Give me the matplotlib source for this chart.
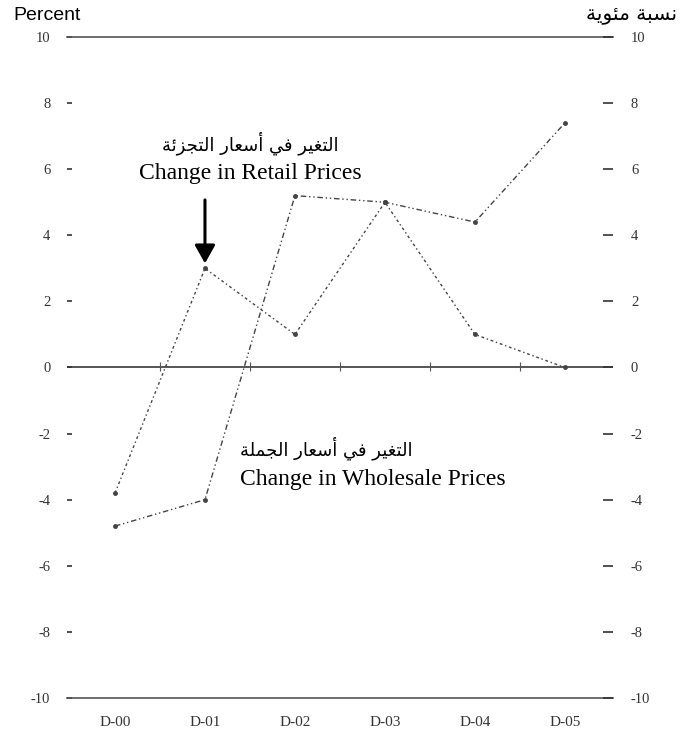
import numpy as np
import matplotlib
matplotlib.use('Agg')
import matplotlib.pyplot as plt

# data
years = ['D-00', 'D-01', 'D-02', 'D-03', 'D-04', 'D-05']
retail = [-3.8, 3.0, 1.0, 5.0, 1.0, 0.0]
wholesale = [-4.8, -4.0, 5.2, 5.0, 4.4, 7.4]
y_ticks = [10, 8, 6, 4, 2, 0, -2, -4, -6, -8, -10]

title_left = 'Percent'
title_right = 'نسبة مئوية'
retail_ar = 'التغير في أسعار التجزئة'
retail_en = 'Change in Retail Prices'
wholesale_ar = 'التغير في أسعار الجملة'
wholesale_en = 'Change in Wholesale Prices'


# matplotlib has no Arabic shaping, so map letters to presentation forms
# (isolated, final, initial, medial) and reverse for right-to-left display
ARABIC_FORMS = {
    'ا': ('\uFE8D', '\uFE8E', None, None),
    'أ': ('\uFE83', '\uFE84', None, None),
    'ب': ('\uFE8F', '\uFE90', '\uFE91', '\uFE92'),
    'ة': ('\uFE93', '\uFE94', None, None),
    'ت': ('\uFE95', '\uFE96', '\uFE97', '\uFE98'),
    'ج': ('\uFE9D', '\uFE9E', '\uFE9F', '\uFEA0'),
    'ر': ('\uFEAD', '\uFEAE', None, None),
    'ز': ('\uFEAF', '\uFEB0', None, None),
    'س': ('\uFEB1', '\uFEB2', '\uFEB3', '\uFEB4'),
    'ع': ('\uFEC9', '\uFECA', '\uFECB', '\uFECC'),
    'غ': ('\uFECD', '\uFECE', '\uFECF', '\uFED0'),
    'ف': ('\uFED1', '\uFED2', '\uFED3', '\uFED4'),
    'ل': ('\uFEDD', '\uFEDE', '\uFEDF', '\uFEE0'),
    'م': ('\uFEE1', '\uFEE2', '\uFEE3', '\uFEE4'),
    'ن': ('\uFEE5', '\uFEE6', '\uFEE7', '\uFEE8'),
    'و': ('\uFEED', '\uFEEE', None, None),
    'ي': ('\uFEF1', '\uFEF2', '\uFEF3', '\uFEF4'),
    'ئ': ('\uFE89', '\uFE8A', '\uFE8B', '\uFE8C'),
}


def shape_arabic(text):
    out = []
    for i, ch in enumerate(text):
        forms = ARABIC_FORMS.get(ch)
        if forms is None:
            out.append(ch)
            continue
        prev = text[i - 1] if i > 0 else ''
        nxt = text[i + 1] if i + 1 < len(text) else ''
        joins_prev = prev in ARABIC_FORMS and ARABIC_FORMS[prev][2] is not None
        joins_next = forms[2] is not None and nxt in ARABIC_FORMS
        if joins_prev and joins_next:
            out.append(forms[3])
        elif joins_prev:
            out.append(forms[1])
        elif joins_next:
            out.append(forms[2])
        else:
            out.append(forms[0])
    return ''.join(reversed(out))


serif = 'Liberation Serif'
arabic_font = ['DejaVu Sans']
line_col = '#444444'
axis_col = '#555555'
tick_col = '#333333'

fig = plt.figure(figsize=(6.84, 7.4), dpi=100)
ax = fig.add_axes([0.098, 0.0568, 0.798, 0.8932])

x = np.arange(len(years))

ax.plot(x, retail, color=line_col, lw=1.0, linestyle=(0, (2, 2, 1, 2)),
        marker='o', markersize=2.5)
ax.plot(x, wholesale, color=line_col, lw=1.0, linestyle=(0, (4, 2, 1, 2, 1, 2)),
        marker='o', markersize=2.5)

ax.set_xlim(-0.533, 5.533)
ax.set_ylim(y_ticks[-1], y_ticks[0])

# zero line with small marks between the years
ax.axhline(0, color=axis_col, lw=1.4, zorder=1)
ax.vlines(x[:-1] + 0.5, -0.12, 0.18, color=axis_col, lw=0.8)

for side in ['left', 'right']:
    ax.spines[side].set_visible(False)
for side in ['top', 'bottom']:
    ax.spines[side].set_color(axis_col)
    ax.spines[side].set_linewidth(1.2)

ax.set_xticks(x)
ax.set_xticklabels(years, fontfamily=serif, fontsize=11, color=tick_col)
ax.tick_params(axis='x', length=0, pad=13)

ax.set_yticks(y_ticks)
ax.set_yticklabels([str(v) for v in y_ticks], fontfamily=serif, fontsize=10.5, color=tick_col)
ax.tick_params(axis='y', direction='in', length=3.5, width=1.2, color=tick_col, pad=12)

ax2 = ax.twinx()
ax2.set_ylim(ax.get_ylim())
for side in ['left', 'right', 'top', 'bottom']:
    ax2.spines[side].set_visible(False)
ax2.set_yticks(y_ticks)
ax2.set_yticklabels([str(v) for v in y_ticks], fontfamily=serif, fontsize=10.5, color=tick_col)
ax2.tick_params(axis='y', direction='in', length=7, width=1.2, color=tick_col, pad=13)

# series labels
ax.text(1.5, 6.8, shape_arabic(retail_ar), family=arabic_font, fontsize=13,
        ha='center', va='center', color='black')
ax.text(1.5, 5.88, retail_en, family=serif, fontsize=17,
        ha='center', va='center', color='black')
ax.annotate('', xy=(1, 3.15), xytext=(1, 5.07),
            arrowprops=dict(arrowstyle='-|>,head_length=0.5,head_width=0.28', lw=2.2,
                            color='black', mutation_scale=22, shrinkA=0, shrinkB=0))

ax.text(1.39, -2.44, shape_arabic(wholesale_ar), family=arabic_font, fontsize=13,
        ha='left', va='center', color='black')
ax.text(1.39, -3.4, wholesale_en, family=serif, fontsize=17,
        ha='left', va='center', color='black')

fig.text(13 / 684, 1 - 15 / 740, title_left, family='Liberation Sans', fontsize=14,
         ha='left', va='center')
fig.text(677 / 684, 1 - 15 / 740, shape_arabic(title_right), family=arabic_font, fontsize=14.5,
         ha='right', va='center')

fig.savefig('out.png', dpi=100)
